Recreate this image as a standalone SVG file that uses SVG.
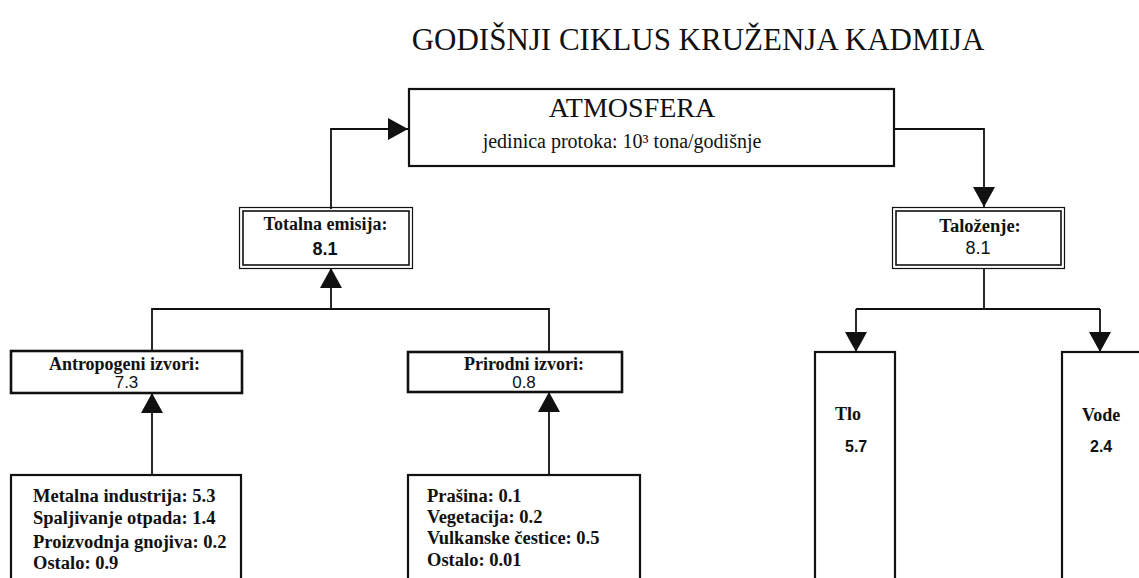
<svg xmlns="http://www.w3.org/2000/svg" width="1139" height="578" viewBox="0 0 1139 578">
<style>
.box{fill:#fff;stroke:#111;stroke-width:2.2}
.thin{fill:none;stroke:#111;stroke-width:1.2}
.inner{fill:none;stroke:#111;stroke-width:1.6}
.con{fill:none;stroke:#111;stroke-width:1.8}
.serif{font-family:'Liberation Serif','Times New Roman',serif;fill:#111}
.sans{font-family:'Liberation Sans',Arial,sans-serif;fill:#111}
.b{font-weight:bold}
.m{text-anchor:middle}
</style>
<defs>
<marker id="arr" viewBox="0 0 20 22" refX="20" refY="11" markerWidth="20" markerHeight="22" markerUnits="userSpaceOnUse" orient="auto">
<path d="M0,0 L20,11 L0,22 Z" fill="#111"/>
</marker>
</defs>
<rect x="0" y="0" width="1139" height="578" fill="#fff"/>
<text class="serif m" x="698" y="50" font-size="31">GODIŠNJI CIKLUS KRUŽENJA KADMIJA</text>

<g id="connectors">
<path class="con" d="M331,209 V129 H408" marker-end="url(#arr)"/>
<path class="con" d="M894,129 H984 V207" marker-end="url(#arr)"/>
<path class="con" d="M331,309 V268" marker-end="url(#arr)"/>
<path class="con" d="M152,351 V309 H549 V352"/>
<path class="con" d="M152,475 V393" marker-end="url(#arr)"/>
<path class="con" d="M549,475 V392" marker-end="url(#arr)"/>
<path class="con" d="M984,268 V309"/>
<path class="con" d="M856,309 H1100"/>
<path class="con" d="M856,309 V352" marker-end="url(#arr)"/>
<path class="con" d="M1100,309 V352" marker-end="url(#arr)"/>
</g>

<g id="atmosfera">
<rect class="box" x="409" y="89" width="485" height="77"/>
<text class="serif m" x="632" y="117" font-size="28">ATMOSFERA</text>
<text class="serif m" x="622" y="148" font-size="20">jedinica protoka: 10³ tona/godišnje</text>
</g>

<g id="totalna">
<rect class="thin" x="239.5" y="207.5" width="173" height="61" fill="#fff"/>
<rect class="inner" x="243" y="211" width="166" height="54"/>
<text class="serif b m" x="325.5" y="230" font-size="18">Totalna emisija:</text>
<text class="sans b m" x="325" y="255" font-size="18">8.1</text>
</g>

<g id="talozenje">
<rect class="thin" x="892.5" y="207.5" width="172" height="61"/>
<rect class="inner" x="896" y="211" width="165" height="54"/>
<text class="serif b m" x="980" y="232" font-size="18.5">Taloženje:</text>
<text class="sans m" x="978" y="254" font-size="18">8.1</text>
</g>

<g id="antropogeni">
<rect class="box" x="11" y="351" width="231" height="42" style="stroke-width:2.6"/>
<text class="serif b m" x="124.5" y="370" font-size="18">Antropogeni izvori:</text>
<text class="sans m" x="126.5" y="388" font-size="17">7.3</text>
</g>

<g id="prirodni">
<rect class="box" x="408" y="352" width="214" height="40" style="stroke-width:2.6"/>
<text class="serif b m" x="524" y="370" font-size="18">Prirodni izvori:</text>
<text class="sans m" x="524" y="388" font-size="17">0.8</text>
</g>

<g id="antropogeni-detalji">
<rect class="box" x="11" y="475" width="230" height="120"/>
<text class="serif b" x="33" y="502" font-size="18.5">Metalna industrija: 5.3</text>
<text class="serif b" x="33" y="524" font-size="18.5">Spaljivanje otpada: 1.4</text>
<text class="serif b" x="33" y="548" font-size="18.5">Proizvodnja gnojiva: 0.2</text>
<text class="serif b" x="33" y="569" font-size="18.5">Ostalo: 0.9</text>
</g>

<g id="prirodni-detalji">
<rect class="box" x="408" y="475" width="232" height="120"/>
<text class="serif b" x="427" y="502" font-size="18.5">Prašina: 0.1</text>
<text class="serif b" x="427" y="523" font-size="18.5">Vegetacija: 0.2</text>
<text class="serif b" x="427" y="544" font-size="18.5">Vulkanske čestice: 0.5</text>
<text class="serif b" x="427" y="566" font-size="18.5">Ostalo: 0.01</text>
</g>

<g id="tlo">
<rect class="box" x="815" y="352" width="80" height="240"/>
<text class="serif b" x="835" y="420" font-size="18">Tlo</text>
<text class="sans b" x="845" y="452" font-size="16">5.7</text>
</g>

<g id="vode">
<rect class="box" x="1062" y="352" width="100" height="240"/>
<text class="serif b" x="1082" y="421" font-size="18">Vode</text>
<text class="sans b" x="1090" y="452" font-size="16">2.4</text>
</g>
</svg>
